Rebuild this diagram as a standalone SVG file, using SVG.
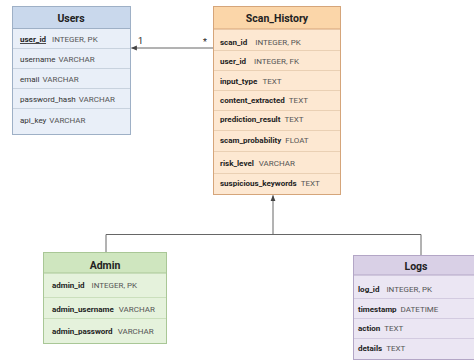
<svg xmlns="http://www.w3.org/2000/svg" width="474" height="363" viewBox="0 0 474 363">
<defs>
<marker id="ah" viewBox="0 0 10 10" refX="9" refY="5" markerWidth="6" markerHeight="6" orient="auto-start-reverse" markerUnits="userSpaceOnUse">
<path d="M0,1 L10,5 L0,9 z" fill="#444"/>
</marker>
<style>
text{font-family:Roboto,"Noto Sans",sans-serif;}
.t{font-size:10.5px;font-weight:bold;fill:#222;text-anchor:middle;}
.f{font-size:8px;fill:#333;}
.n{font-weight:bold;fill:#222;}
.ty{fill:#555;}
.lbl{font-size:9px;fill:#222;}
.conn{stroke:#666;stroke-width:1;fill:none;}
.ub{fill:#e9eff8;stroke:#9eb0c6;}
.uh{fill:#c9d8ec;stroke:#9eb0c6;}
.us{stroke:#c8d2de;}
.sb{fill:#fde8d2;stroke:#d5a57a;}
.sh{fill:#fbd6a9;stroke:#d5a57a;}
.ss{stroke:#ead0b4;}
.ab{fill:#e5f2dc;stroke:#a9c796;}
.ah{fill:#cfe6bf;stroke:#a9c796;}
.as{stroke:#cadfbc;}
.lb{fill:#ebe6f3;stroke:#b3a6c6;}
.lh{fill:#d9d0e6;stroke:#b3a6c6;}
.ls{stroke:#d3cbe0;}
</style>
</defs>

<g id="connectors">
<line class="conn" x1="213" y1="48" x2="131.5" y2="48" marker-end="url(#ah)"/>
<text class="lbl" x="138" y="44">1</text>
<text class="lbl" x="203" y="45">*</text>
<polyline class="conn" points="106,252 106,234.5 421,234.5 421,255"/>
<line class="conn" x1="273" y1="234.5" x2="273" y2="195.5" marker-end="url(#ah)"/>
</g>

<g id="Users">
<rect class="ub" x="12.5" y="6.5" width="118" height="128"/>
<rect class="uh" x="12.5" y="6.5" width="118" height="22"/>
<line class="us" x1="13" y1="48.5" x2="130" y2="48.5"/>
<line class="us" x1="13" y1="68.5" x2="130" y2="68.5"/>
<line class="us" x1="13" y1="88.5" x2="130" y2="88.5"/>
<line class="us" x1="13" y1="108.5" x2="130" y2="108.5"/>
<text class="t" x="71" y="21.5">Users</text>
<text class="f" x="20" y="42"><tspan class="n" text-decoration="underline">user_id</tspan><tspan class="ty" dx="6">INTEGER, PK</tspan></text>
<text class="f" x="20" y="62">username<tspan class="ty" dx="3">VARCHAR</tspan></text>
<text class="f" x="20" y="82">email<tspan class="ty" dx="3">VARCHAR</tspan></text>
<text class="f" x="20" y="102">password_hash<tspan class="ty" dx="3">VARCHAR</tspan></text>
<text class="f" x="20" y="123">api_key<tspan class="ty" dx="3">VARCHAR</tspan></text>
</g>

<g id="Scan_History">
<rect class="sb" x="213.5" y="6.5" width="127" height="188"/>
<rect class="sh" x="213.5" y="6.5" width="127" height="22.5"/>
<line class="ss" x1="214" y1="50.5" x2="340" y2="50.5"/>
<line class="ss" x1="214" y1="70.5" x2="340" y2="70.5"/>
<line class="ss" x1="214" y1="90.5" x2="340" y2="90.5"/>
<line class="ss" x1="214" y1="110.5" x2="340" y2="110.5"/>
<line class="ss" x1="214" y1="130.5" x2="340" y2="130.5"/>
<line class="ss" x1="214" y1="151.5" x2="340" y2="151.5"/>
<line class="ss" x1="214" y1="173.5" x2="340" y2="173.5"/>
<text class="t" x="277" y="22">Scan_History</text>
<text class="f" x="220" y="45"><tspan class="n">scan_id</tspan><tspan class="ty" dx="8">INTEGER, PK</tspan></text>
<text class="f" x="220" y="64"><tspan class="n">user_id</tspan><tspan class="ty" dx="8">INTEGER, FK</tspan></text>
<text class="f" x="220" y="84"><tspan class="n">input_type</tspan><tspan class="ty" dx="5">TEXT</tspan></text>
<text class="f" x="220" y="103"><tspan class="n">content_extracted</tspan><tspan class="ty" dx="4">TEXT</tspan></text>
<text class="f" x="220" y="122"><tspan class="n">prediction_result</tspan><tspan class="ty" dx="4">TEXT</tspan></text>
<text class="f" x="220" y="143"><tspan class="n">scam_probability</tspan><tspan class="ty" dx="4">FLOAT</tspan></text>
<text class="f" x="220" y="166"><tspan class="n">risk_level</tspan><tspan class="ty" dx="5">VARCHAR</tspan></text>
<text class="f" x="220" y="186"><tspan class="n">suspicious_keywords</tspan><tspan class="ty" dx="4">TEXT</tspan></text>
</g>

<g id="Admin">
<rect class="ab" x="43.5" y="252.5" width="123" height="91"/>
<rect class="ah" x="43.5" y="252.5" width="123" height="20.5"/>
<line class="as" x1="44" y1="297.5" x2="166" y2="297.5"/>
<line class="as" x1="44" y1="318.5" x2="166" y2="318.5"/>
<text class="t" x="105" y="269">Admin</text>
<text class="f" x="52" y="288"><tspan class="n">admin_id</tspan><tspan class="ty" dx="7">INTEGER, PK</tspan></text>
<text class="f" x="52" y="312"><tspan class="n">admin_username</tspan><tspan class="ty" dx="5">VARCHAR</tspan></text>
<text class="f" x="52" y="334"><tspan class="n">admin_password</tspan><tspan class="ty" dx="5">VARCHAR</tspan></text>
</g>

<g id="Logs">
<rect class="lb" x="353.5" y="255.5" width="126" height="104"/>
<rect class="lh" x="353.5" y="255.5" width="126" height="19.5"/>
<line class="ls" x1="354" y1="298.5" x2="479" y2="298.5"/>
<line class="ls" x1="354" y1="318.5" x2="479" y2="318.5"/>
<line class="ls" x1="354" y1="338.5" x2="479" y2="338.5"/>
<text class="t" x="416" y="269.5">Logs</text>
<text class="f" x="358" y="292"><tspan class="n">log_id</tspan><tspan class="ty" dx="7">INTEGER, PK</tspan></text>
<text class="f" x="358" y="312"><tspan class="n">timestamp</tspan><tspan class="ty" dx="4">DATETIME</tspan></text>
<text class="f" x="358" y="331"><tspan class="n">action</tspan><tspan class="ty" dx="4">TEXT</tspan></text>
<text class="f" x="358" y="351"><tspan class="n">details</tspan><tspan class="ty" dx="4">TEXT</tspan></text>
</g>
</svg>
